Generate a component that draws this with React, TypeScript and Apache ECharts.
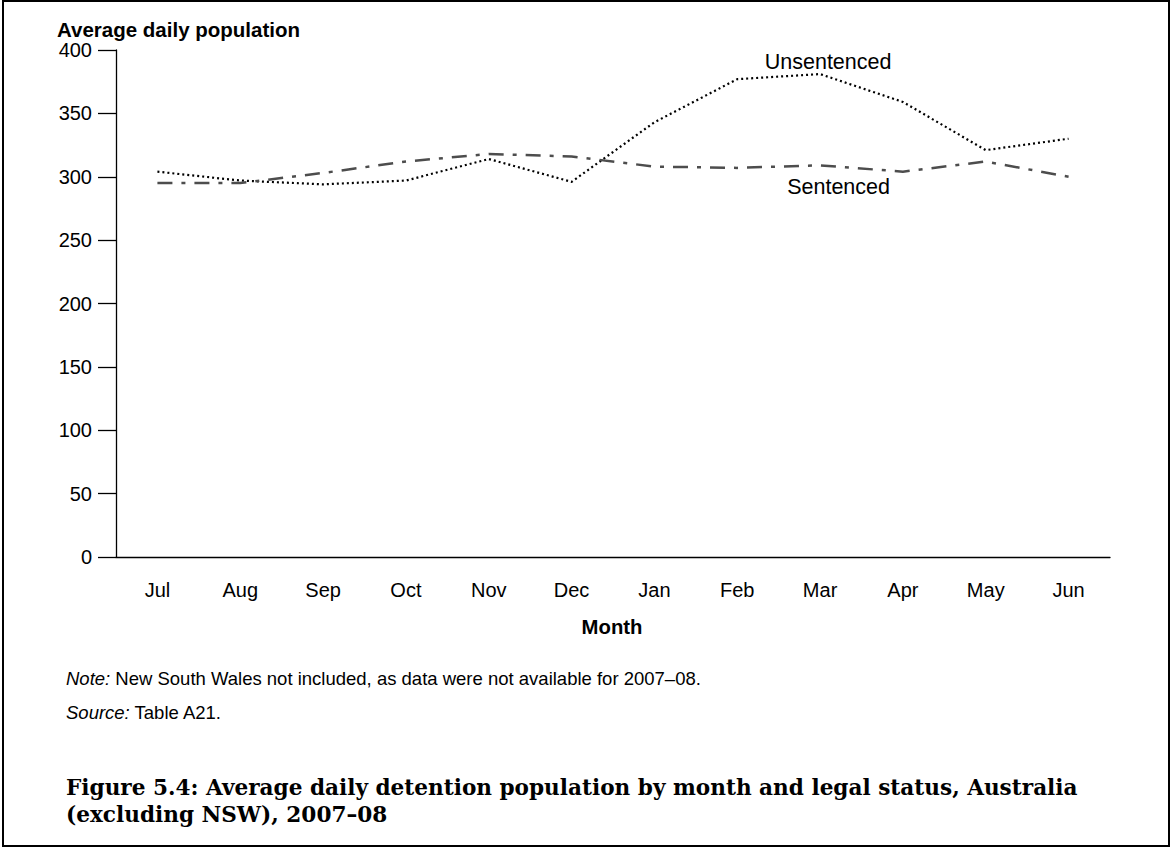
import React, { useEffect, useRef } from "react";
import * as echarts from "echarts";

const months = ["Jul", "Aug", "Sep", "Oct", "Nov", "Dec", "Jan", "Feb", "Mar", "Apr", "May", "Jun"];
const unsentenced = [304, 297, 294, 297, 314, 296, 343, 377, 381, 359, 321, 330];
const sentenced = [295, 295, 303, 312, 318, 316, 308, 307, 309, 304, 312, 300];
const yTicks = { min: 0, max: 400, interval: 50 };
const yAxisTitle = "Average daily population";
const xAxisTitle = "Month";
const noteText = "New South Wales not included, as data were not available for 2007–08.";
const sourceText = "Table A21.";
const titleLines = [
  "Figure 5.4: Average daily detention population by month and legal status, Australia",
  "(excluding NSW), 2007–08",
];
const labelIndex = 8;

export default function App() {
  const ref = useRef<HTMLDivElement>(null);
  useEffect(() => {
    document.body.style.margin = "0";
    const chart = echarts.init(ref.current!, null, { renderer: "svg" });
    const sans = "'Liberation Sans', Arial, sans-serif";
    const serif = "'DejaVu Serif', serif";
    const lineLabel = (text: string, position: string, offset: number[]) => ({
      show: true,
      position,
      distance: 0,
      formatter: text,
      offset,
      color: "#000",
      fontFamily: sans,
      fontSize: 21.5,
      lineHeight: 21.5,
    });
    chart.setOption({
      animation: false,
      backgroundColor: "#fff",
      grid: { left: 116, right: 61, top: 50, bottom: 291 },
      xAxis: {
        type: "category",
        data: months,
        boundaryGap: true,
        axisLine: { lineStyle: { color: "#000", width: 1.3 } },
        axisTick: { alignWithLabel: true, length: 19, lineStyle: { color: "#000", width: 1.3 } },
        axisLabel: { color: "#000", fontFamily: sans, fontSize: 20, margin: 23 },
      },
      yAxis: {
        type: "value",
        min: yTicks.min,
        max: yTicks.max,
        interval: yTicks.interval,
        axisLine: { show: true, lineStyle: { color: "#000", width: 1.3 } },
        axisTick: { show: true, length: 18, lineStyle: { color: "#000", width: 1.3 } },
        splitLine: { show: false },
        axisLabel: { color: "#000", fontFamily: sans, fontSize: 20, margin: 24 },
      },
      series: [
        {
          name: "Unsentenced",
          type: "line",
          data: unsentenced.map((v, i) =>
            i === labelIndex ? { value: v, label: lineLabel("Unsentenced", "top", [8, -1.5]) } : v
          ),
          symbol: "circle",
          symbolSize: 0,
          showSymbol: true,
          itemStyle: { color: "#000" },
          lineStyle: { color: "#000", width: 2.2, type: [2, 3], cap: "butt" },
        },
        {
          name: "Sentenced",
          type: "line",
          data: sentenced.map((v, i) =>
            i === labelIndex ? { value: v, label: lineLabel("Sentenced", "bottom", [18.5, 11]) } : v
          ),
          symbol: "circle",
          symbolSize: 0,
          showSymbol: true,
          itemStyle: { color: "#4d4d4d" },
          lineStyle: { color: "#4d4d4d", width: 2.5, type: [15, 9, 4, 9], cap: "butt" },
        },
      ],
      graphic: [
        {
          type: "rect",
          shape: { x: 3, y: 1, width: 1166, height: 845 },
          style: { fill: "none", stroke: "#000", lineWidth: 2 },
          silent: true,
        },
        {
          type: "text",
          x: 57,
          y: 29,
          style: {
            text: yAxisTitle,
            font: `bold 20.5px ${sans}`,
            fill: "#000",
            verticalAlign: "middle",
          },
        },
        {
          type: "text",
          x: 612,
          y: 627,
          style: {
            text: xAxisTitle,
            font: `bold 20.3px ${sans}`,
            fill: "#000",
            align: "center",
            verticalAlign: "middle",
          },
        },
        {
          type: "text",
          x: 66,
          y: 678,
          style: {
            rich: {
              i: { fontFamily: sans, fontStyle: "italic", fontSize: 18.5, fill: "#000" },
              n: { fontFamily: sans, fontSize: 18.5, fill: "#000" },
            },
            text: `{i|Note:}{n| ${noteText}}`,
            verticalAlign: "middle",
          },
        },
        {
          type: "text",
          x: 66,
          y: 712,
          style: {
            rich: {
              i: { fontFamily: sans, fontStyle: "italic", fontSize: 18.5, fill: "#000" },
              n: { fontFamily: sans, fontSize: 18.5, fill: "#000" },
            },
            text: `{i|Source:}{n| ${sourceText}}`,
            verticalAlign: "middle",
          },
        },
        {
          type: "text",
          x: 66,
          y: 787,
          style: { text: titleLines[0], font: `bold 21.6px ${serif}`, fill: "#000", verticalAlign: "middle" },
        },
        {
          type: "text",
          x: 66,
          y: 814,
          style: { text: titleLines[1], font: `bold 21.6px ${serif}`, fill: "#000", verticalAlign: "middle" },
        },
      ],
    });
    return () => chart.dispose();
  }, []);
  return <div ref={ref} style={{ width: 1171, height: 848, position: "absolute", left: 0, top: 0 }} />;
}
